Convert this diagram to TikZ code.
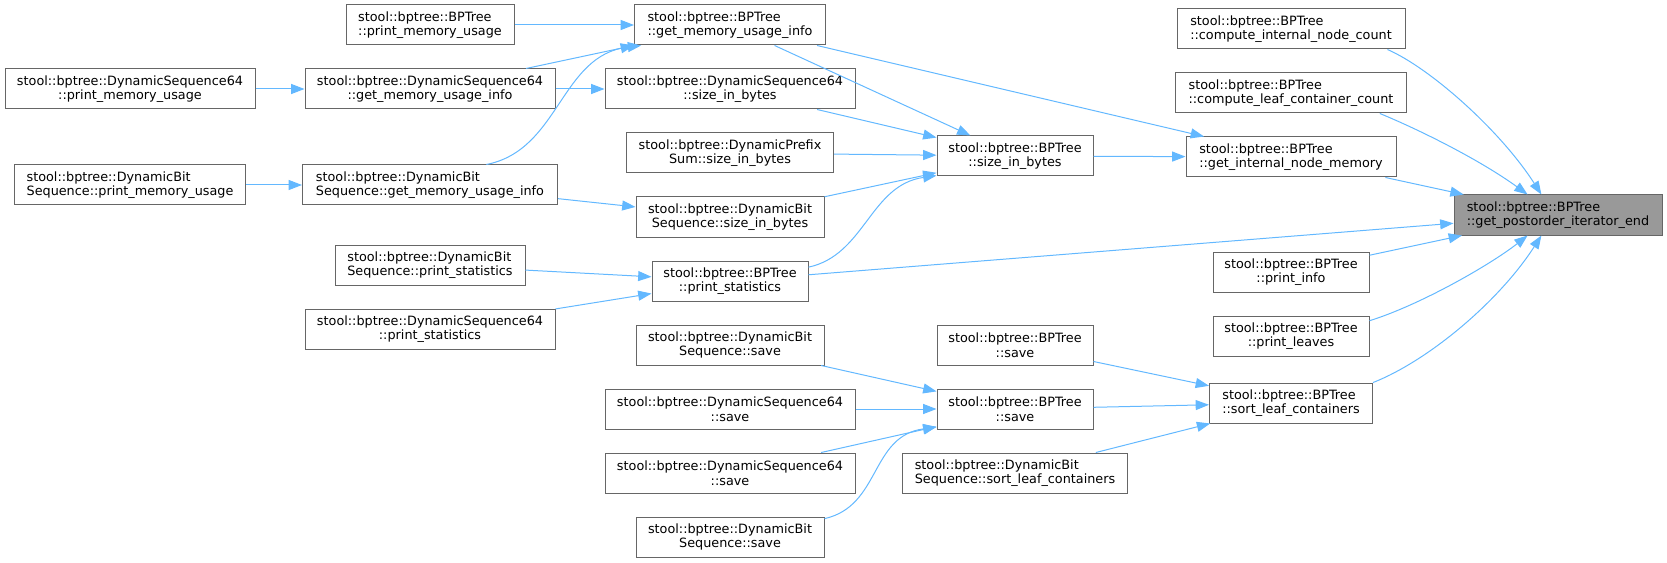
\documentclass[tikz,border=0pt]{standalone}
\usepackage{fontspec}
\setmainfont{DejaVu Sans}
\usetikzlibrary{arrows.meta}
\definecolor{edgeblue}{HTML}{63B8FF}
\definecolor{boxline}{HTML}{666666}
\definecolor{rootfill}{HTML}{999999}
\tikzset{
  fn/.style={draw=boxline, line width=0.75pt, fill=white, minimum height=30pt, inner sep=0pt, font=\fontsize{9.6}{11}\selectfont},
  fnl/.style={fn, align=left},
  fnc/.style={fn, align=center},
  call/.style={draw=edgeblue, line width=0.75pt, -{Triangle[length=10pt,width=7.5pt]}},
}
\begin{document}
\begin{tikzpicture}[x=0.75pt,y=-0.75pt]
\useasboundingbox (0,0) rectangle (1667,563);

\node[fnl, fill=rootfill, minimum width=156pt] (1) at (1558,215) {stool::bptree::BPTree\\::get\_postorder\_iterator\_end};% root

\node[fnl, minimum width=171pt] (2) at (1291,29) {stool::bptree::BPTree\\::compute\_internal\_node\_count};
\node[fnl, minimum width=173.25pt] (3) at (1291,93) {stool::bptree::BPTree\\::compute\_leaf\_container\_count};
\node[fnl, minimum width=157.5pt] (4) at (1291,157) {stool::bptree::BPTree\\::get\_internal\_node\_memory};
\node[fnc, minimum width=117pt] (18) at (1291,272) {stool::bptree::BPTree\\::print\_info};
\node[fnc, minimum width=117pt] (19) at (1291,336) {stool::bptree::BPTree\\::print\_leaves};
\node[fnl, minimum width=122.25pt] (20) at (1291,403) {stool::bptree::BPTree\\::sort\_leaf\_containers};

\node[fnc, minimum width=117pt] (5) at (1015,156) {stool::bptree::BPTree\\::size\_in\_bytes};
\node[fnc, minimum width=117pt] (21) at (1015,345) {stool::bptree::BPTree\\::save};
\node[fnc, minimum width=117pt] (22) at (1015,409) {stool::bptree::BPTree\\::save};
\node[fnl, minimum width=168.75pt] (27) at (1015,473) {stool::bptree::DynamicBit\\Sequence::sort\_leaf\_containers};

\node[fnl, minimum width=143.25pt] (6) at (730,25) {stool::bptree::BPTree\\::get\_memory\_usage\_info};
\node[fnc, minimum width=187.5pt] (12) at (730,89) {stool::bptree::DynamicSequence64\\::size\_in\_bytes};
\node[fnc, minimum width=155.25pt] (13) at (730,153) {stool::bptree::DynamicPrefix\\Sum::size\_in\_bytes};
\node[fnc, minimum width=141pt] (14) at (730,217) {stool::bptree::DynamicBit\\Sequence::size\_in\_bytes};
\node[fnc, minimum width=117pt] (15) at (730,281) {stool::bptree::BPTree\\::print\_statistics};
\node[fnc, minimum width=141pt] (23) at (730,345) {stool::bptree::DynamicBit\\Sequence::save};
\node[fnc, minimum width=187.5pt] (24) at (730,409) {stool::bptree::DynamicSequence64\\::save};
\node[fnc, minimum width=187.5pt] (25) at (730,473) {stool::bptree::DynamicSequence64\\::save};
\node[fnc, minimum width=141pt] (26) at (730,537) {stool::bptree::DynamicBit\\Sequence::save};

\node[fnl, minimum width=126pt] (7) at (430,25) {stool::bptree::BPTree\\::print\_memory\_usage};
\node[fnc, minimum width=187.5pt] (8) at (430,89) {stool::bptree::DynamicSequence64\\::get\_memory\_usage\_info};
\node[fnl, minimum width=191.25pt] (10) at (430,185) {stool::bptree::DynamicBit\\Sequence::get\_memory\_usage\_info};
\node[fnl, minimum width=142.5pt] (16) at (430,265) {stool::bptree::DynamicBit\\Sequence::print\_statistics};
\node[fnc, minimum width=187.5pt] (17) at (430,329) {stool::bptree::DynamicSequence64\\::print\_statistics};

\node[fnc, minimum width=187.5pt] (9) at (130,89) {stool::bptree::DynamicSequence64\\::print\_memory\_usage};
\node[fnl, minimum width=173.25pt] (11) at (130,185) {stool::bptree::DynamicBit\\Sequence::print\_memory\_usage};

\draw[call] (7) -- (6);
\draw[call] (8) -- (6);
\draw[call] (10.20) .. controls (560,150) and (560,55) .. (6.193);
\draw[call] (9) -- (8);
\draw[call] (11) -- (10);
\draw[call] (8) -- (12);
\draw[call] (10) -- (14);
\draw[call] (6) -- (5);
\draw[call] (6) -- (4);
\draw[call] (12) -- (5);
\draw[call] (13) -- (5);
\draw[call] (14) -- (5);
\draw[call] (15.10) .. controls (865,255) and (870,185) .. (5.194);
\draw[call] (15) -- (1);
\draw[call] (16) -- (15);
\draw[call] (17) -- (15);
\draw[call] (5) -- (4);

\draw[call] (2.-12) .. controls (1430,68) and (1500,130) .. (1.129);
\draw[call] (3.-13) .. controls (1420,130) and (1480,160) .. (1.146);
\draw[call] (4) -- (1);
\draw[call] (18) -- (1);
\draw[call] (19.11) .. controls (1420,305) and (1490,265) .. (1.214);
\draw[call] (20.14) .. controls (1430,360) and (1500,300) .. (1.231);

\draw[call] (21) -- (20);
\draw[call] (22) -- (20);
\draw[call] (27) -- (20);
\draw[call] (23) -- (22);
\draw[call] (24) -- (22);
\draw[call] (25) -- (22);
\draw[call] (26.11) .. controls (881,506) and (870,436) .. (22.193);% lower save
\end{tikzpicture}
\end{document}
